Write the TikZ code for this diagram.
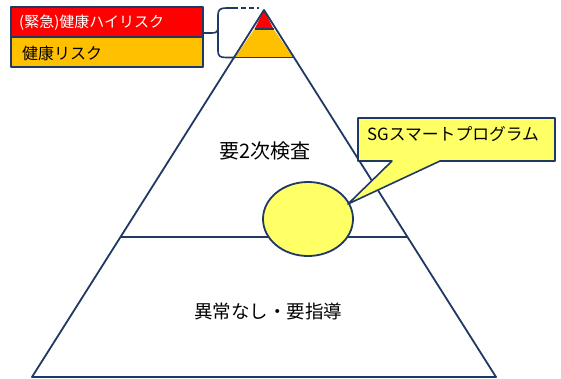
\documentclass[tikz,border=0pt]{standalone}
\usepackage{fontspec}
\setmainfont{Noto Sans CJK JP}
\usetikzlibrary{calc,shapes.geometric}
\definecolor{navy}{RGB}{31,56,100}
\definecolor{hired}{RGB}{255,0,0}
\definecolor{horange}{RGB}{255,192,0}
\definecolor{hyellow}{RGB}{255,255,102}
\tikzset{
  outline/.style={draw=navy, line width=1.8pt, line join=round},
  lbl/.style={inner sep=0pt, font=\fontsize{#1}{#1}\selectfont},
}
\begin{document}
\begin{tikzpicture}[x=1pt,y=-1pt]
\useasboundingbox (0,0) rectangle (561,378);
% pyramid corners
\coordinate (apex) at (264,10);
\coordinate (bl) at (32,377);
\coordinate (br) at (496,377);
\coordinate (r1l) at (254.5,29);
\coordinate (r1r) at (273.5,29);
\coordinate (o1l) at (235,57.5);
\coordinate (o1r) at (293,57.5);
\coordinate (ml) at (120,237);
\coordinate (mr) at (408,237);
% fills
\fill[hired] (apex) -- (r1r) -- (r1l) -- cycle;
\fill[horange] (r1l) -- (r1r) -- (o1r) -- (o1l) -- cycle;
\draw[outline] (r1l) -- (r1r);
\draw[outline] (o1l) -- (o1r);
\draw[outline] (ml) -- (mr);
\draw[outline] (apex) -- (bl) -- (br) -- cycle;
% labels in pyramid
\node[lbl=20] (second) at (265,151) {要2次検査};
\node[lbl=18.5] (normal) at (268,311) {異常なし・要指導};
% ellipse
\node[outline, fill=hyellow, ellipse, minimum width=90pt, minimum height=74pt, inner sep=0pt] (prog) at (308,219) {};
% callout
\draw[outline, fill=hyellow, line width=1.6pt] (358,118) -- (555,118) -- (555,161) -- (440,161) -- (348,204) -- (392,161) -- (358,161) -- cycle;
\node[lbl=16.8, anchor=west] (sg) at (367,134) {SGスマートプログラム};
% legend
\fill[hired] (11,7) rectangle (203,37);
\fill[horange] (11,37) rectangle (203,67);
\draw[outline, line width=1.6pt] (11,37) -- (203,37);
\draw[outline, line width=1.6pt] (11,7) rectangle (203,67);
\node[lbl=15, anchor=west, text=white] (urgent) at (19,23) {(緊急)健康ハイリスク};
\node[lbl=16, anchor=west] (risk) at (22,53) {健康リスク};
% brace
\coordinate (btip) at (204,33);
\draw[draw=navy, line width=1.6pt, line join=round] (btip) -- (212,33) .. controls (217,33) and (218,31) .. (218,27) -- (218,15) .. controls (218,10) and (220,8) .. (226,8) -- (233,8);
\draw[draw=navy, line width=1.6pt] (218,27) -- (218,51) .. controls (218,56) and (220,57.5) .. (226,57.5) -- (o1l);
\draw[draw=navy, line width=1.6pt, dash pattern=on 5pt off 3pt] (233,8) -- (259,8);
\end{tikzpicture}
\end{document}
